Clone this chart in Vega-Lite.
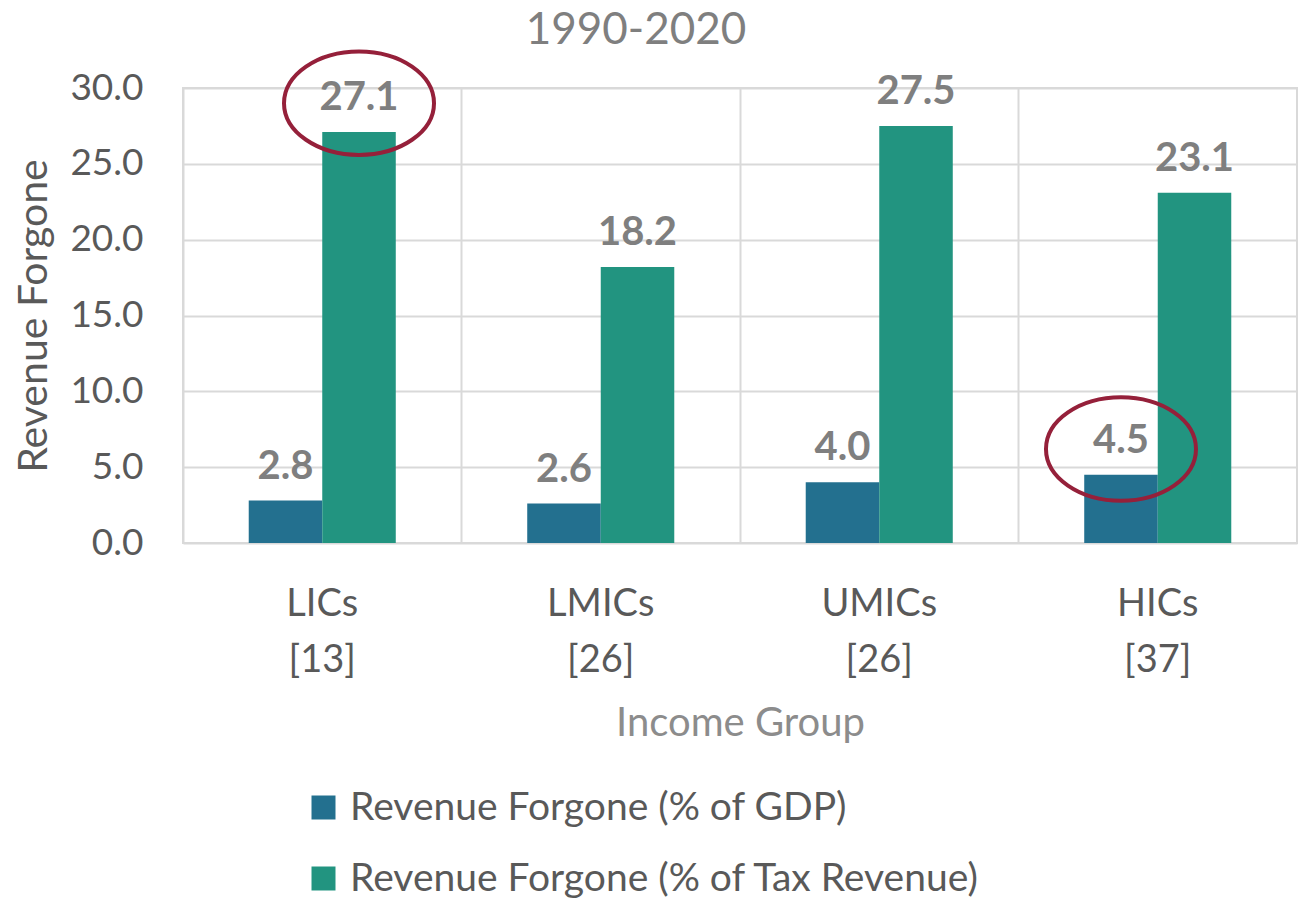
{
  "$schema": "https://vega.github.io/schema/vega-lite/v6.json",
  "autosize": {"type": "none"},
  "padding": {"left": 183, "top": 88, "right": 2, "bottom": 355},
  "width": 1114,
  "height": 455,
  "title": {"text": "1990-2020", "font": "Lato", "fontSize": 44, "fontWeight": "normal", "color": "#7f7f7f", "anchor": "middle", "frame": "group", "dx": -104, "offset": -10},
  "config": {
    "font": "Lato",
    "view": {"stroke": "#d9d9d9", "strokeWidth": 2}
  },
  "datasets": {
    "bars": [
      {"group": "LICs [13]", "series": "Revenue Forgone (% of GDP)", "value": 2.8},
      {"group": "LICs [13]", "series": "Revenue Forgone (% of Tax Revenue)", "value": 27.1},
      {"group": "LMICs [26]", "series": "Revenue Forgone (% of GDP)", "value": 2.6},
      {"group": "LMICs [26]", "series": "Revenue Forgone (% of Tax Revenue)", "value": 18.2},
      {"group": "UMICs [26]", "series": "Revenue Forgone (% of GDP)", "value": 4.0},
      {"group": "UMICs [26]", "series": "Revenue Forgone (% of Tax Revenue)", "value": 27.5},
      {"group": "HICs [37]", "series": "Revenue Forgone (% of GDP)", "value": 4.5},
      {"group": "HICs [37]", "series": "Revenue Forgone (% of Tax Revenue)", "value": 23.1}
    ],
    "marks": [
      {"group": "LICs [13]", "series": "Revenue Forgone (% of Tax Revenue)", "value": 29.0},
      {"group": "HICs [37]", "series": "Revenue Forgone (% of GDP)", "value": 6.2}
    ]
  },
  "encoding": {
    "x": {
      "field": "group", "type": "nominal", "sort": null,
      "scale": {"paddingInner": 0, "paddingOuter": 0},
      "axis": {
        "title": "Income Group", "titleFont": "Lato", "titleFontSize": 40, "titleFontWeight": "normal", "titleColor": "#8c8c8c", "titlePadding": 24,
        "labelExpr": "split(datum.label, ' ')", "labelFontSize": 38, "labelColor": "#595959", "labelLineHeight": 56, "labelPadding": 42, "labelAngle": 0,
        "domain": false, "ticks": false, "grid": true, "gridColor": "#d9d9d9", "gridWidth": 2, "bandPosition": 0
      }
    },
    "xOffset": {"field": "series", "type": "nominal", "sort": null, "scale": {"paddingInner": 0, "paddingOuter": 0.894}},
    "y": {
      "field": "value", "type": "quantitative",
      "scale": {"domain": [0, 30], "nice": false},
      "axis": {
        "title": "Revenue Forgone", "titleFontSize": 41, "titleFontWeight": "normal", "titleColor": "#595959", "titlePadding": 14,
        "values": [0, 5, 10, 15, 20, 25, 30], "format": ".1f",
        "labelFontSize": 37, "labelColor": "#595959", "labelPadding": 40,
        "domain": false, "ticks": false, "gridColor": "#d9d9d9", "gridWidth": 2
      }
    }
  },
  "layer": [
    {
      "data": {"name": "bars"},
      "mark": {"type": "bar"},
      "encoding": {
        "color": {
          "field": "series", "type": "nominal", "sort": null,
          "scale": {"range": ["#23708f", "#229480"]},
          "legend": {
            "title": null, "orient": "none", "legendX": 121, "legendY": 700, "direction": "vertical",
            "symbolType": "square", "symbolSize": 576, "symbolStrokeWidth": 0,
            "labelFontSize": 39, "labelColor": "#595959", "labelOffset": 7, "rowPadding": 31, "labelLimit": 1000
          }
        }
      }
    },
    {
      "data": {"name": "bars"},
      "mark": {"type": "text", "baseline": "alphabetic", "dy": -22, "fontSize": 40, "fontWeight": "bold", "color": "#7f7f7f"},
      "encoding": {
        "text": {"field": "value", "type": "quantitative", "format": ".1f"}
      }
    },
    {
      "data": {"name": "marks"},
      "mark": {
        "type": "point", "filled": false, "stroke": "#95203a", "strokeWidth": 4, "opacity": 1, "size": 22500,
        "shape": "M -1 0 A 1 0.69 0 1 0 1 0 A 1 0.69 0 1 0 -1 0 Z"
      },
      "encoding": {}
    }
  ]
}
